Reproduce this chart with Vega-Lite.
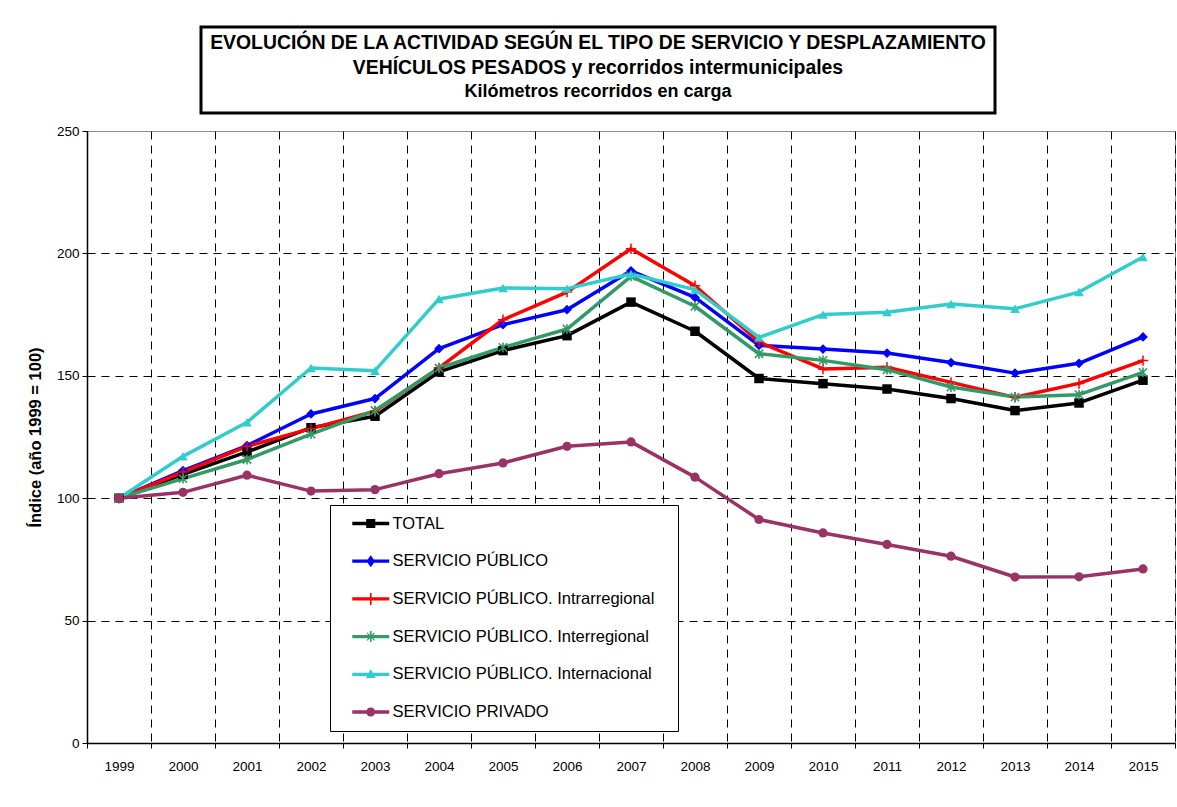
{
  "$schema": "https://vega.github.io/schema/vega-lite/v6.json",
  "background": "white",
  "padding": {"left": 26, "top": 25, "right": 0, "bottom": 0},
  "spacing": 8,
  "center": false,
  "datasets": {
    "d": [
      {"anio": "1999", "serie": "TOTAL", "indice": 100},
      {"anio": "2000", "serie": "TOTAL", "indice": 109.7},
      {"anio": "2001", "serie": "TOTAL", "indice": 118.9},
      {"anio": "2002", "serie": "TOTAL", "indice": 128.8},
      {"anio": "2003", "serie": "TOTAL", "indice": 133.5},
      {"anio": "2004", "serie": "TOTAL", "indice": 151.6},
      {"anio": "2005", "serie": "TOTAL", "indice": 160.3},
      {"anio": "2006", "serie": "TOTAL", "indice": 166.4},
      {"anio": "2007", "serie": "TOTAL", "indice": 180.1},
      {"anio": "2008", "serie": "TOTAL", "indice": 168.2},
      {"anio": "2009", "serie": "TOTAL", "indice": 148.9},
      {"anio": "2010", "serie": "TOTAL", "indice": 146.8},
      {"anio": "2011", "serie": "TOTAL", "indice": 144.6},
      {"anio": "2012", "serie": "TOTAL", "indice": 140.7},
      {"anio": "2013", "serie": "TOTAL", "indice": 135.8},
      {"anio": "2014", "serie": "TOTAL", "indice": 138.9},
      {"anio": "2015", "serie": "TOTAL", "indice": 148.2},
      {"anio": "1999", "serie": "SERVICIO PÚBLICO", "indice": 100},
      {"anio": "2000", "serie": "SERVICIO PÚBLICO", "indice": 111.3},
      {"anio": "2001", "serie": "SERVICIO PÚBLICO", "indice": 121.5},
      {"anio": "2002", "serie": "SERVICIO PÚBLICO", "indice": 134.4},
      {"anio": "2003", "serie": "SERVICIO PÚBLICO", "indice": 140.7},
      {"anio": "2004", "serie": "SERVICIO PÚBLICO", "indice": 161.1},
      {"anio": "2005", "serie": "SERVICIO PÚBLICO", "indice": 170.9},
      {"anio": "2006", "serie": "SERVICIO PÚBLICO", "indice": 177.0},
      {"anio": "2007", "serie": "SERVICIO PÚBLICO", "indice": 192.9},
      {"anio": "2008", "serie": "SERVICIO PÚBLICO", "indice": 182.0},
      {"anio": "2009", "serie": "SERVICIO PÚBLICO", "indice": 162.4},
      {"anio": "2010", "serie": "SERVICIO PÚBLICO", "indice": 160.9},
      {"anio": "2011", "serie": "SERVICIO PÚBLICO", "indice": 159.3},
      {"anio": "2012", "serie": "SERVICIO PÚBLICO", "indice": 155.4},
      {"anio": "2013", "serie": "SERVICIO PÚBLICO", "indice": 151.1},
      {"anio": "2014", "serie": "SERVICIO PÚBLICO", "indice": 155.1},
      {"anio": "2015", "serie": "SERVICIO PÚBLICO", "indice": 165.9},
      {"anio": "1999", "serie": "SERVICIO PÚBLICO. Intrarregional", "indice": 100},
      {"anio": "2000", "serie": "SERVICIO PÚBLICO. Intrarregional", "indice": 110.7},
      {"anio": "2001", "serie": "SERVICIO PÚBLICO. Intrarregional", "indice": 121.2},
      {"anio": "2002", "serie": "SERVICIO PÚBLICO. Intrarregional", "indice": 128.4},
      {"anio": "2003", "serie": "SERVICIO PÚBLICO. Intrarregional", "indice": 135.5},
      {"anio": "2004", "serie": "SERVICIO PÚBLICO. Intrarregional", "indice": 153.2},
      {"anio": "2005", "serie": "SERVICIO PÚBLICO. Intrarregional", "indice": 172.9},
      {"anio": "2006", "serie": "SERVICIO PÚBLICO. Intrarregional", "indice": 184.2},
      {"anio": "2007", "serie": "SERVICIO PÚBLICO. Intrarregional", "indice": 201.9},
      {"anio": "2008", "serie": "SERVICIO PÚBLICO. Intrarregional", "indice": 186.8},
      {"anio": "2009", "serie": "SERVICIO PÚBLICO. Intrarregional", "indice": 163.8},
      {"anio": "2010", "serie": "SERVICIO PÚBLICO. Intrarregional", "indice": 152.8},
      {"anio": "2011", "serie": "SERVICIO PÚBLICO. Intrarregional", "indice": 153.5},
      {"anio": "2012", "serie": "SERVICIO PÚBLICO. Intrarregional", "indice": 147.3},
      {"anio": "2013", "serie": "SERVICIO PÚBLICO. Intrarregional", "indice": 141.2},
      {"anio": "2014", "serie": "SERVICIO PÚBLICO. Intrarregional", "indice": 146.9},
      {"anio": "2015", "serie": "SERVICIO PÚBLICO. Intrarregional", "indice": 156.2},
      {"anio": "1999", "serie": "SERVICIO PÚBLICO. Interregional", "indice": 100},
      {"anio": "2000", "serie": "SERVICIO PÚBLICO. Interregional", "indice": 108.0},
      {"anio": "2001", "serie": "SERVICIO PÚBLICO. Interregional", "indice": 115.8},
      {"anio": "2002", "serie": "SERVICIO PÚBLICO. Interregional", "indice": 126.2},
      {"anio": "2003", "serie": "SERVICIO PÚBLICO. Interregional", "indice": 135.8},
      {"anio": "2004", "serie": "SERVICIO PÚBLICO. Interregional", "indice": 153.2},
      {"anio": "2005", "serie": "SERVICIO PÚBLICO. Interregional", "indice": 161.6},
      {"anio": "2006", "serie": "SERVICIO PÚBLICO. Interregional", "indice": 169.1},
      {"anio": "2007", "serie": "SERVICIO PÚBLICO. Interregional", "indice": 190.6},
      {"anio": "2008", "serie": "SERVICIO PÚBLICO. Interregional", "indice": 178.4},
      {"anio": "2009", "serie": "SERVICIO PÚBLICO. Interregional", "indice": 159.0},
      {"anio": "2010", "serie": "SERVICIO PÚBLICO. Interregional", "indice": 156.3},
      {"anio": "2011", "serie": "SERVICIO PÚBLICO. Interregional", "indice": 152.5},
      {"anio": "2012", "serie": "SERVICIO PÚBLICO. Interregional", "indice": 145.4},
      {"anio": "2013", "serie": "SERVICIO PÚBLICO. Interregional", "indice": 141.3},
      {"anio": "2014", "serie": "SERVICIO PÚBLICO. Interregional", "indice": 142.3},
      {"anio": "2015", "serie": "SERVICIO PÚBLICO. Interregional", "indice": 151.4},
      {"anio": "1999", "serie": "SERVICIO PÚBLICO. Internacional", "indice": 100},
      {"anio": "2000", "serie": "SERVICIO PÚBLICO. Internacional", "indice": 117.1},
      {"anio": "2001", "serie": "SERVICIO PÚBLICO. Internacional", "indice": 131.0},
      {"anio": "2002", "serie": "SERVICIO PÚBLICO. Internacional", "indice": 153.2},
      {"anio": "2003", "serie": "SERVICIO PÚBLICO. Internacional", "indice": 152.1},
      {"anio": "2004", "serie": "SERVICIO PÚBLICO. Internacional", "indice": 181.4},
      {"anio": "2005", "serie": "SERVICIO PÚBLICO. Internacional", "indice": 185.9},
      {"anio": "2006", "serie": "SERVICIO PÚBLICO. Internacional", "indice": 185.6},
      {"anio": "2007", "serie": "SERVICIO PÚBLICO. Internacional", "indice": 191.6},
      {"anio": "2008", "serie": "SERVICIO PÚBLICO. Internacional", "indice": 185.2},
      {"anio": "2009", "serie": "SERVICIO PÚBLICO. Internacional", "indice": 165.7},
      {"anio": "2010", "serie": "SERVICIO PÚBLICO. Internacional", "indice": 175.0},
      {"anio": "2011", "serie": "SERVICIO PÚBLICO. Internacional", "indice": 176.0},
      {"anio": "2012", "serie": "SERVICIO PÚBLICO. Internacional", "indice": 179.3},
      {"anio": "2013", "serie": "SERVICIO PÚBLICO. Internacional", "indice": 177.4},
      {"anio": "2014", "serie": "SERVICIO PÚBLICO. Internacional", "indice": 184.2},
      {"anio": "2015", "serie": "SERVICIO PÚBLICO. Internacional", "indice": 198.5},
      {"anio": "1999", "serie": "SERVICIO PRIVADO", "indice": 100},
      {"anio": "2000", "serie": "SERVICIO PRIVADO", "indice": 102.4},
      {"anio": "2001", "serie": "SERVICIO PRIVADO", "indice": 109.4},
      {"anio": "2002", "serie": "SERVICIO PRIVADO", "indice": 102.9},
      {"anio": "2003", "serie": "SERVICIO PRIVADO", "indice": 103.5},
      {"anio": "2004", "serie": "SERVICIO PRIVADO", "indice": 110.0},
      {"anio": "2005", "serie": "SERVICIO PRIVADO", "indice": 114.4},
      {"anio": "2006", "serie": "SERVICIO PRIVADO", "indice": 121.2},
      {"anio": "2007", "serie": "SERVICIO PRIVADO", "indice": 123.0},
      {"anio": "2008", "serie": "SERVICIO PRIVADO", "indice": 108.6},
      {"anio": "2009", "serie": "SERVICIO PRIVADO", "indice": 91.3},
      {"anio": "2010", "serie": "SERVICIO PRIVADO", "indice": 85.8},
      {"anio": "2011", "serie": "SERVICIO PRIVADO", "indice": 81.1},
      {"anio": "2012", "serie": "SERVICIO PRIVADO", "indice": 76.3},
      {"anio": "2013", "serie": "SERVICIO PRIVADO", "indice": 67.8},
      {"anio": "2014", "serie": "SERVICIO PRIVADO", "indice": 67.9},
      {"anio": "2015", "serie": "SERVICIO PRIVADO", "indice": 71.1}
    ]
  },
  "vconcat": [
    {
      "spacing": 0,
      "hconcat": [
        {
          "width": 112,
          "height": 10,
          "view": {"stroke": null},
          "data": {"values": [{}]},
          "mark": {"type": "text"},
          "encoding": {"text": {"value": ""}}
        },
        {
          "width": 794,
          "height": 86,
          "view": {"stroke": "black", "strokeWidth": 3, "fill": "white"},
          "data": {"values": [{}]},
          "mark": {"type": "text"},
          "encoding": {"text": {"value": ""}},
          "title": {
            "text": ["EVOLUCIÓN DE LA ACTIVIDAD SEGÚN EL TIPO DE SERVICIO Y DESPLAZAMIENTO", "VEHÍCULOS PESADOS y recorridos intermunicipales"],
            "subtitle": "Kilómetros recorridos en carga",
            "anchor": "middle",
            "orient": "top",
            "frame": "group",
            "offset": -75,
            "baseline": "top",
            "font": "Liberation Sans",
            "fontSize": 19.4,
            "fontWeight": "bold",
            "color": "black",
            "lineHeight": 25,
            "subtitleFont": "Liberation Sans",
            "subtitleFontSize": 18,
            "subtitleFontWeight": "bold",
            "subtitleColor": "black",
            "subtitleLineHeight": 24,
            "subtitlePadding": 5
          }
        }
      ]
    },
    {
      "width": 1088,
      "height": 612,
      "view": {"stroke": "#8c8c8c", "strokeWidth": 1},
      "data": {"name": "d"},
      "encoding": {
        "x": {
          "field": "anio",
          "type": "ordinal",
          "scale": {"type": "band", "paddingInner": 0, "paddingOuter": 0},
          "axis": {
            "title": null,
            "labelAngle": 0,
            "labelFontSize": 13.5,
            "tickBand": "extent",
            "tickSize": 5,
            "labelPadding": 11,
            "grid": true,
            "gridColor": "black",
            "gridDash": [8, 6],
            "gridWidth": 1,
            "domainWidth": 1.5
          }
        },
        "y": {
          "field": "indice",
          "type": "quantitative",
          "scale": {"domain": [0, 250], "nice": false, "zero": true},
          "axis": {
            "title": "Índice (año 1999 = 100)",
            "values": [0, 50, 100, 150, 200, 250],
            "labelFontSize": 13.5,
            "tickSize": 5,
            "labelPadding": 3,
            "grid": true,
            "gridColor": "black",
            "gridDash": [8, 6],
            "gridOpacity": {"condition": {"test": "datum.value == 0 || datum.value == 250", "value": 0}, "value": 1},
            "titleFontSize": 16.5,
            "titleFontWeight": "bold",
            "titlePadding": 13,
            "domainWidth": 1.5
          }
        }
      },
      "layer": [
        {
          "transform": [{"filter": "datum.indice < 0"}],
          "mark": {"type": "point", "filled": true, "opacity": 1},
          "encoding": {
            "color": {
              "field": "serie",
              "type": "nominal",
              "scale": {
                "domain": ["TOTAL", "SERVICIO PÚBLICO", "SERVICIO PÚBLICO. Intrarregional", "SERVICIO PÚBLICO. Interregional", "SERVICIO PÚBLICO. Internacional", "SERVICIO PRIVADO"],
                "range": ["#000000", "#0000FF", "#FF0000", "#339966", "#33CCCC", "#993366"]
              },
              "legend": {
                "orient": "none", "legendX": 243, "legendY": 478,
                "title": "\u00a0", "titleOrient": "right", "titlePadding": 14, "titleFontSize": 16.5,
                "strokeColor": "black", "fillColor": "white", "padding": 10,
                "symbolSize": 272, "symbolStrokeWidth": 0, "symbolOpacity": 1,
                "labelFont": "Liberation Sans", "labelFontSize": 16.5, "labelColor": "black",
                "labelLimit": 500, "rowPadding": 20.7, "labelOffset": 13.25, "symbolOffset": 22.25
              }
            },
            "shape": {
              "field": "serie",
              "type": "nominal",
              "scale": {
                "domain": ["TOTAL", "SERVICIO PÚBLICO", "SERVICIO PÚBLICO. Intrarregional", "SERVICIO PÚBLICO. Interregional", "SERVICIO PÚBLICO. Internacional", "SERVICIO PRIVADO"],
                "range": [
                  "M-2.24,-0.2H2.24V0.2H-2.24Z M-0.55,-0.55H0.55V0.55H-0.55Z",
                  "M-2.24,-0.2H2.24V0.2H-2.24Z M0,-0.73L0.52,0L0,0.73L-0.52,0Z",
                  "M-2.24,-0.2H2.24V0.2H-2.24Z M-0.1,-0.73H0.1V0.73H-0.1Z",
                  "M-2.24,-0.2H2.24V0.2H-2.24Z M-0.1,-0.67H0.1V0.67H-0.1Z M-0.5,-0.4L-0.4,-0.5L0.5,0.4L0.4,0.5Z M-0.4,0.5L-0.5,0.4L0.4,-0.5L0.5,-0.4Z",
                  "M-2.24,-0.2H2.24V0.2H-2.24Z M0,-0.65L0.6,0.45L-0.6,0.45Z",
                  "M-2.24,-0.2H2.24V0.2H-2.24Z M-0.55,0A0.55,0.55,0,0,1,0.55,0A0.55,0.55,0,0,1,-0.55,0Z"
                ]
              },
              "legend": {
                "orient": "none", "legendX": 243, "legendY": 478,
                "title": "\u00a0", "titleOrient": "right", "titlePadding": 14, "titleFontSize": 16.5,
                "strokeColor": "black", "fillColor": "white", "padding": 10,
                "symbolSize": 272, "symbolStrokeWidth": 0, "symbolOpacity": 1,
                "labelFont": "Liberation Sans", "labelFontSize": 16.5, "labelColor": "black",
                "labelLimit": 500, "rowPadding": 20.7, "labelOffset": 13.25, "symbolOffset": 22.25
              }
            }
          }
        },
        {
          "mark": {"type": "line", "strokeWidth": 3.5, "strokeJoin": "round"},
          "encoding": {
            "stroke": {
              "field": "serie", "type": "nominal", "legend": null,
              "scale": {
                "domain": ["TOTAL", "SERVICIO PÚBLICO", "SERVICIO PÚBLICO. Intrarregional", "SERVICIO PÚBLICO. Interregional", "SERVICIO PÚBLICO. Internacional", "SERVICIO PRIVADO"],
                "range": ["#000000", "#0000FF", "#FF0000", "#339966", "#33CCCC", "#993366"]
              }
            }
          }
        },
        {
          "transform": [{"filter": "datum.serie == 'TOTAL'"}],
          "mark": {"type": "point", "shape": "square", "filled": true, "size": 90, "opacity": 1},
          "encoding": {"fill": {"field": "serie", "type": "nominal", "legend": null, "scale": {"domain": ["TOTAL", "SERVICIO PÚBLICO", "SERVICIO PÚBLICO. Intrarregional", "SERVICIO PÚBLICO. Interregional", "SERVICIO PÚBLICO. Internacional", "SERVICIO PRIVADO"], "range": ["#000000", "#0000FF", "#FF0000", "#339966", "#33CCCC", "#993366"]}}}
        },
        {
          "transform": [{"filter": "datum.serie == 'SERVICIO PÚBLICO'"}],
          "mark": {"type": "point", "shape": "diamond", "filled": true, "size": 95, "opacity": 1},
          "encoding": {"fill": {"field": "serie", "type": "nominal", "legend": null, "scale": {"domain": ["TOTAL", "SERVICIO PÚBLICO", "SERVICIO PÚBLICO. Intrarregional", "SERVICIO PÚBLICO. Interregional", "SERVICIO PÚBLICO. Internacional", "SERVICIO PRIVADO"], "range": ["#000000", "#0000FF", "#FF0000", "#339966", "#33CCCC", "#993366"]}}}
        },
        {
          "transform": [{"filter": "datum.serie == 'SERVICIO PÚBLICO. Intrarregional'"}],
          "mark": {"type": "point", "shape": "M-1,0H1M0,-1V1", "filled": false, "strokeWidth": 1.5, "size": 110, "opacity": 1},
          "encoding": {"stroke": {"field": "serie", "type": "nominal", "legend": null, "scale": {"domain": ["TOTAL", "SERVICIO PÚBLICO", "SERVICIO PÚBLICO. Intrarregional", "SERVICIO PÚBLICO. Interregional", "SERVICIO PÚBLICO. Internacional", "SERVICIO PRIVADO"], "range": ["#000000", "#0000FF", "#FF0000", "#339966", "#33CCCC", "#993366"]}}}
        },
        {
          "transform": [{"filter": "datum.serie == 'SERVICIO PÚBLICO. Interregional'"}],
          "mark": {"type": "point", "shape": "M0,-1V1M-0.85,-0.85L0.85,0.85M-0.85,0.85L0.85,-0.85", "filled": false, "strokeWidth": 1.6, "size": 95, "opacity": 1},
          "encoding": {"stroke": {"field": "serie", "type": "nominal", "legend": null, "scale": {"domain": ["TOTAL", "SERVICIO PÚBLICO", "SERVICIO PÚBLICO. Intrarregional", "SERVICIO PÚBLICO. Interregional", "SERVICIO PÚBLICO. Internacional", "SERVICIO PRIVADO"], "range": ["#000000", "#0000FF", "#FF0000", "#339966", "#33CCCC", "#993366"]}}}
        },
        {
          "transform": [{"filter": "datum.serie == 'SERVICIO PÚBLICO. Internacional'"}],
          "mark": {"type": "point", "shape": "triangle-up", "filled": true, "size": 95, "opacity": 1},
          "encoding": {"fill": {"field": "serie", "type": "nominal", "legend": null, "scale": {"domain": ["TOTAL", "SERVICIO PÚBLICO", "SERVICIO PÚBLICO. Intrarregional", "SERVICIO PÚBLICO. Interregional", "SERVICIO PÚBLICO. Internacional", "SERVICIO PRIVADO"], "range": ["#000000", "#0000FF", "#FF0000", "#339966", "#33CCCC", "#993366"]}}}
        },
        {
          "transform": [{"filter": "datum.serie == 'SERVICIO PRIVADO'"}],
          "mark": {"type": "point", "shape": "circle", "filled": true, "size": 85, "opacity": 1},
          "encoding": {"fill": {"field": "serie", "type": "nominal", "legend": null, "scale": {"domain": ["TOTAL", "SERVICIO PÚBLICO", "SERVICIO PÚBLICO. Intrarregional", "SERVICIO PÚBLICO. Interregional", "SERVICIO PÚBLICO. Internacional", "SERVICIO PRIVADO"], "range": ["#000000", "#0000FF", "#FF0000", "#339966", "#33CCCC", "#993366"]}}}
        }
      ]
    }
  ],
  "config": {
    "font": "Liberation Sans",
    "axis": {"labelColor": "black", "titleColor": "black", "domainColor": "black", "tickColor": "black", "labelFont": "Liberation Sans", "titleFont": "Liberation Sans"}
  }
}
